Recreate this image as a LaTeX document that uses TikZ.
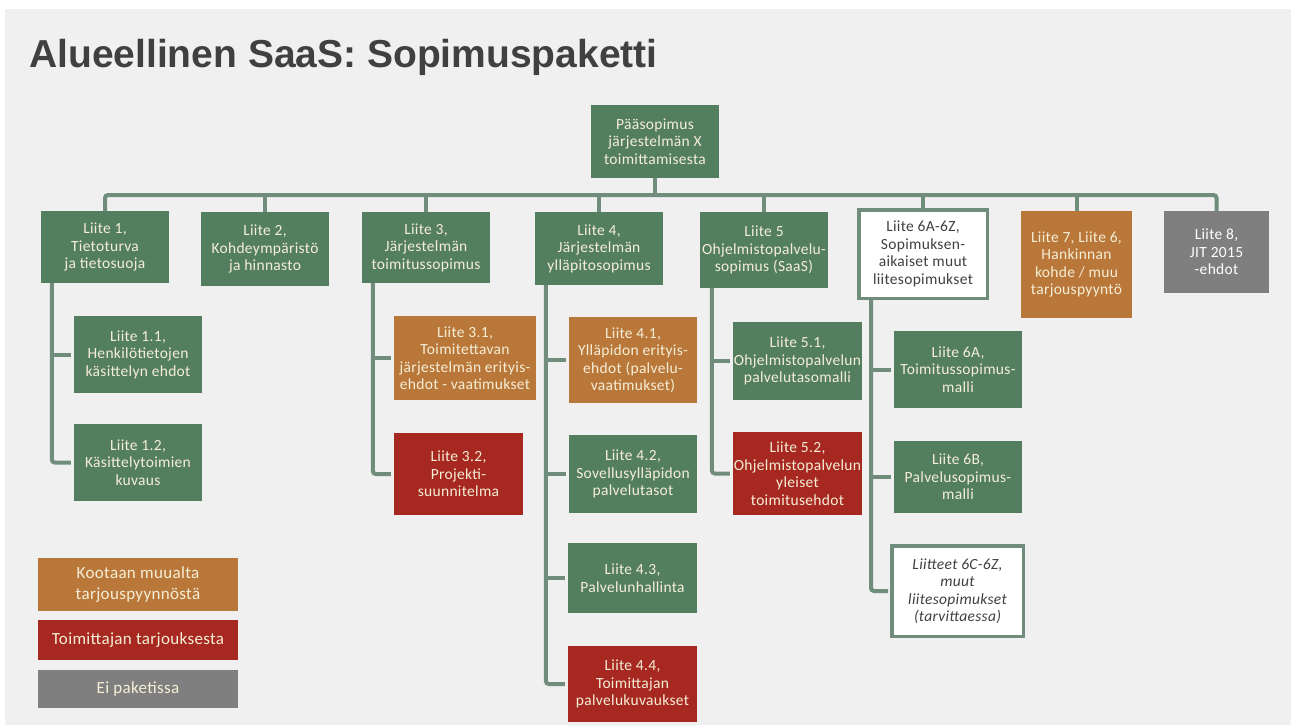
\documentclass[tikz,border=0pt]{standalone}
\usepackage{fontspec}
\setmainfont{Carlito}[LetterSpace=2]
\newfontfamily\titlefont{Liberation Sans}
\definecolor{bgc}{RGB}{240,240,240}
\definecolor{grn}{RGB}{84,126,96}
\definecolor{lnc}{RGB}{111,141,122}
\definecolor{org}{RGB}{185,120,58}
\definecolor{rdc}{RGB}{166,40,32}
\definecolor{gyc}{RGB}{127,127,127}
\definecolor{crm}{RGB}{245,238,215}
\definecolor{ttl}{RGB}{64,64,64}
\tikzset{
  box/.style={fill=grn, text=crm, align=center, inner sep=0pt, font=\fontsize{15.5}{17.5}\selectfont},
  obox/.style={box, fill=org},
  rbox/.style={box, fill=rdc},
  gbox/.style={box, fill=gyc, text=white},
  wbox/.style={box, fill=white, draw=lnc, line width=3.5pt, text=ttl},
  lgd/.style={inner sep=0pt, align=center, minimum width=200pt, font=\fontsize{17}{21}\selectfont},
  conn/.style={draw=lnc, line width=4pt, rounded corners=3pt},
  sz/.style 2 args={minimum width=#1pt, minimum height=#2pt}
}
\begin{document}
\begin{tikzpicture}[x=1pt,y=-1pt]
\useasboundingbox (0,0) rectangle (1291,725);
\fill[white] (0,0) rectangle (1291,725);
\fill[bgc] (5,9) rectangle (1291,725);
\node[anchor=base west, text=ttl, inner sep=0pt, font=\titlefont\bfseries\fontsize{39}{44}\selectfont] (title) at (29,67) {Alueellinen SaaS: Sopimuspaketti};

\node[box, sz={128}{73}] (main) at (655,141.5) {Pääsopimus\\järjestelmän X\\toimittamisesta};

\node[box, sz={128}{72}] (l1) at (105,247) {Liite 1,\\Tietoturva\\ja tietosuoja};
\node[box, sz={128}{74}] (l2) at (265,249) {Liite 2,\\Kohdeympäristö\\ja hinnasto};
\node[box, sz={128}{71}] (l3) at (426,247.5) {Liite 3,\\Järjestelmän\\toimitussopimus};
\node[box, sz={128}{73}] (l4) at (599,248.5) {Liite 4,\\Järjestelmän\\ylläpitosopimus};
\node[box, sz={128}{76}] (l5) at (764,250) {Liite 5\\Ohjelmistopalvelu-\\sopimus (SaaS)};
\node[wbox, sz={128.5}{88.5}] (l6) at (923,254) {Liite 6A-6Z,\\Sopimuksen-\\aikaiset muut\\liitesopimukset};
\node[obox, sz={111}{107}] (l7) at (1076.5,264.5) {Liite 7, Liite 6,\\Hankinnan\\kohde / muu\\tarjouspyyntö};
\node[gbox, sz={105}{82}] (l8) at (1216.5,252) {Liite 8,\\JIT 2015\\-ehdot};

\node[box, sz={128}{77}] (l11) at (138,354.5) {Liite 1.1,\\Henkilötietojen\\käsittelyn ehdot};
\node[box, sz={128}{77}] (l12) at (138,462.5) {Liite 1.2,\\Käsittelytoimien\\kuvaus};

\node[obox, sz={142}{84}] (l31) at (465,358) {Liite 3.1,\\Toimitettavan\\järjestelmän erityis-\\ehdot - vaatimukset};
\node[rbox, sz={129}{82}] (l32) at (458.5,474) {Liite 3.2,\\Projekti-\\suunnitelma};

\node[obox, sz={128}{86}] (l41) at (633,360) {Liite 4.1,\\Ylläpidon erityis-\\ehdot (palvelu-\\vaatimukset)};
\node[box, sz={128}{78}] (l42) at (633,474) {Liite 4.2,\\Sovellusylläpidon\\palvelutasot};
\node[box, sz={129}{70}] (l43) at (632.5,578) {Liite 4.3,\\Palvelunhallinta};
\node[rbox, sz={129}{76}] (l44) at (632.5,684) {Liite 4.4,\\Toimittajan\\palvelukuvaukset};

\node[box, sz={129}{78}] (l51) at (797.5,361) {Liite 5.1,\\Ohjelmistopalvelun\\palvelutasomalli};
\node[rbox, sz={129}{83}] (l52) at (797.5,473.5) {Liite 5.2,\\Ohjelmistopalvelun\\yleiset\\toimitusehdot};

\node[box, sz={128}{77}] (l6a) at (958,369.5) {Liite 6A,\\Toimitussopimus-\\malli};
\node[box, sz={128}{72}] (l6b) at (958,477) {Liite 6B,\\Palvelusopimus-\\malli};
\node[wbox, sz={131.5}{90.5}, font=\fontsize{15.5}{17.5}\selectfont\itshape] (l6c) at (957.5,591) {Liitteet 6C-6Z,\\muut\\liitesopimukset\\(tarvittaessa)};

% legend
\node[lgd, fill=org, text=crm, minimum height=53pt] (lg1) at (138,584.5) {Kootaan muualta\\tarjouspyynnöstä};
\node[lgd, fill=rdc, text=crm, minimum height=40pt] (lg2) at (138,640) {Toimittajan tarjouksesta};
\node[lgd, fill=gyc, text=crm, minimum height=38pt] (lg3) at (138,689) {Ei paketissa};

% bus
\coordinate (busy) at (0,195);
\draw[conn, rounded corners=0pt] (main.south) -- (main.south |- busy);
\draw[conn] (l1.north) -- (l1.north |- busy) -- (l8.north |- busy) -- (l8.north);
\foreach \n in {l2,l3,l4,l5,l6,l7}{
  \draw[conn, rounded corners=0pt] (\n.north) -- (\n.north |- busy);
}

% sub-branches
\draw[conn] ([xshift=11pt]l1.south west) |- ([xshift=-3pt]l12.west);
\draw[conn, rounded corners=0pt] ([xshift=11pt]l1.south west |- l11.west) -- ([xshift=-3pt]l11.west);

\draw[conn] ([xshift=11pt]l3.south west) |- ([xshift=-3pt]l32.west);
\draw[conn, rounded corners=0pt] ([xshift=11pt]l3.south west |- l31.west) -- ([xshift=-3pt]l31.west);

\draw[conn] ([xshift=11pt]l4.south west) |- ([xshift=-3pt]l44.west);
\foreach \n in {l41,l42,l43}{
  \draw[conn, rounded corners=0pt] ([xshift=11pt]l4.south west |- \n.west) -- ([xshift=-3pt]\n.west);
}

\draw[conn] ([xshift=12pt]l5.south west) |- ([xshift=-3pt]l52.west);
\draw[conn, rounded corners=0pt] ([xshift=12pt]l5.south west |- l51.west) -- ([xshift=-3pt]l51.west);

\draw[conn] ([xshift=14pt]l6.south west) |- ([xshift=-2pt]l6c.west);
\foreach \n in {l6a,l6b}{
  \draw[conn, rounded corners=0pt] ([xshift=14pt]l6.south west |- \n.west) -- ([xshift=-3pt]\n.west);
}
\end{tikzpicture}
\end{document}
